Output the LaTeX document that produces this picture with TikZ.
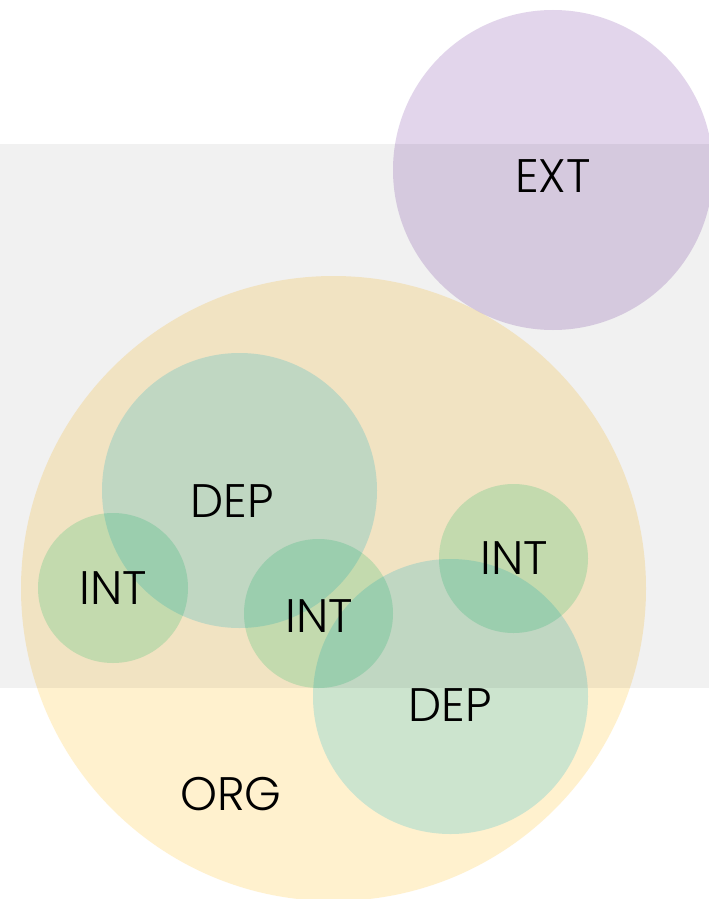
\documentclass[tikz,border=0pt]{standalone}
\usepackage{xcolor}
\usepackage{fontspec}
\setmainfont{Poppins}
\newfontfamily\lblfont{Poppins Light}
\usepackage{tikz}
\definecolor{bandgray}{HTML}{F1F1F1}
\definecolor{orgyellow}{RGB}{255,241,206}
\definecolor{depteal}{RGB}{204,242,255}
\definecolor{intgreen}{RGB}{207,245,229}
\definecolor{extpurple}{RGB}{226,213,235}

\begin{document}
\begin{tikzpicture}[x=1pt,y=-1pt,
  lbl/.style={font=\lblfont\fontsize{47}{50}\selectfont,inner sep=0pt,text=black}]
  \useasboundingbox (0,0) rectangle (709,899);
  \fill[white] (0,0) rectangle (709,899);

  \begin{scope}[blend mode=multiply]
    % Gray band
    \fill[bandgray] (0,144) rectangle (709,688);

    % Outer circles
    \fill[extpurple] (553,170) circle [radius=160pt];
    \fill[orgyellow] (333.5,588.5) circle [radius=312.5pt];

    % Departments
    \fill[depteal] (239.5,490.5) circle [radius=137.5pt];
    \fill[depteal] (450.5,696.5) circle [radius=137.5pt];

    % Internal groups
    \fill[intgreen] (113,588) circle [radius=75pt];
    \fill[intgreen] (318.5,613.5) circle [radius=74.5pt];
    \fill[intgreen] (513.5,558.5) circle [radius=74.5pt];
  \end{scope}

  % Labels
  \node[lbl] (ext) at (553,176.5) {EXT};
  \node[lbl] (org) at (231,794) {ORG};
  \node[lbl] (depA) at (232,501) {DEP};
  \node[lbl] (depB) at (450,705) {DEP};
  \node[lbl] (intA) at (113,588) {INT};
  \node[lbl] (intB) at (319,616) {INT};
  \node[lbl] (intC) at (514,558) {INT};
\end{tikzpicture}
\end{document}
